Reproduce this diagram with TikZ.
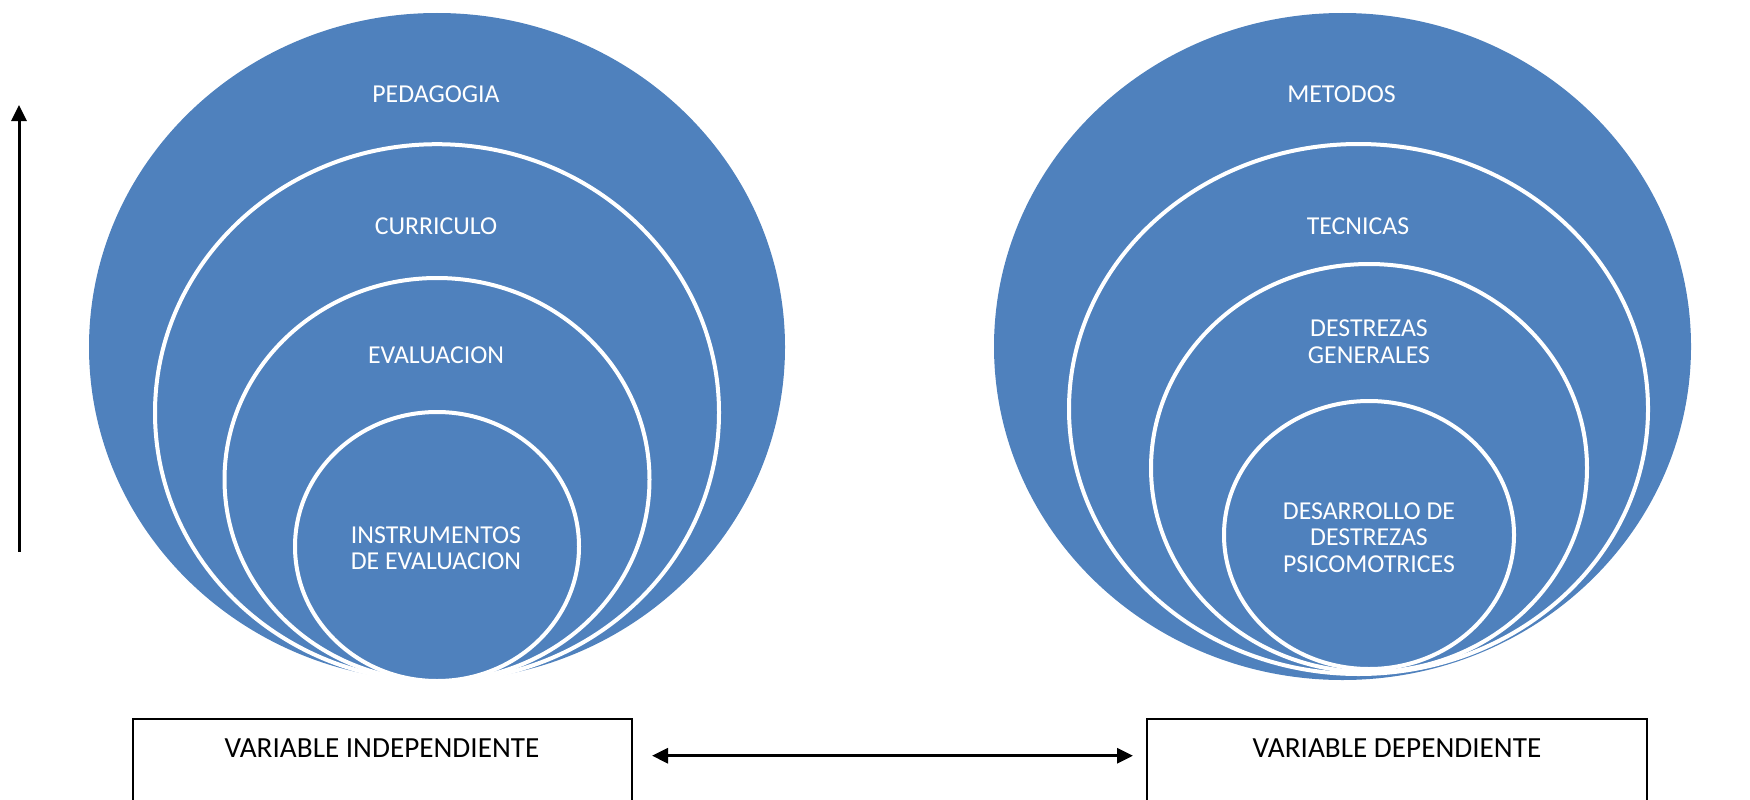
\documentclass[tikz,border=0pt]{standalone}
\usepackage{fontspec}
\setmainfont{Carlito}
\usetikzlibrary{shapes.geometric,arrows.meta,calc}
\definecolor{accentblue}{HTML}{4F81BD}
\tikzset{
  blob/.style={ellipse, fill=accentblue, draw=white, line width=4pt, inner sep=0pt, outer sep=0pt},
  outerblob/.style={ellipse, fill=accentblue, draw=none, inner sep=0pt, outer sep=0pt},
  ctext/.style={text=white, align=center, inner sep=0pt, font=\fontsize{25.8}{26.4}\selectfont},
  vbox/.style={draw=black, line width=2pt, fill=white, inner sep=0pt, anchor=north west},
  vtext/.style={text=black, inner sep=0pt, font=\fontsize{29.2}{30}\selectfont},
  arr/.style={line width=3pt, -{Triangle[length=16pt,width=15pt]}},
  darr/.style={line width=3pt, {Triangle[length=16pt,width=15pt]}-{Triangle[length=16pt,width=15pt]}}
}
\begin{document}
\begin{tikzpicture}[x=1pt,y=-1pt]
\useasboundingbox (0,0) rectangle (1750,800);
\clip (0,0) rectangle (1750,800);
% left group
\node[outerblob, minimum width=696pt, minimum height=668pt] (L1) at (437,347) {};
\node[blob, minimum width=564pt, minimum height=537pt] (L2) at (437,412.7) {};
\node[blob, minimum width=425pt, minimum height=403pt] (L3) at (437,479.5) {};
\node[blob, minimum width=284pt, minimum height=269pt] (L4) at (437,546.5) {};
\node[ctext] (tL1) at (436,94.4) {PEDAGOGIA};
\node[ctext] (tL2) at (436,226) {CURRICULO};
\node[ctext] (tL3) at (436,355.6) {EVALUACION};
\node[ctext] (tL4) at (436,548.5) {INSTRUMENTOS\\DE EVALUACION};
% right group
\node[outerblob, minimum width=697pt, minimum height=667pt] (R1) at (1342.5,346.5) {};
\node[blob, minimum width=579pt, minimum height=530pt] (R2) at (1358.5,409) {};
\node[blob, minimum width=436pt, minimum height=408pt] (R3) at (1369,468) {};
\node[blob, minimum width=290pt, minimum height=268pt] (R4) at (1369,535) {};
\node[ctext] (tR1) at (1341.5,94.4) {METODOS};
\node[ctext] (tR2) at (1358,226) {TECNICAS};
\node[ctext] (tR3) at (1369,341.8) {DESTREZAS\\GENERALES};
\node[ctext] (tR4) at (1369,537.4) {DESARROLLO DE\\DESTREZAS\\PSICOMOTRICES};
% boxes
\node[vbox, minimum width=499pt, minimum height=110pt] (boxL) at (131.5,718.3) {};
\node[vbox, minimum width=500pt, minimum height=110pt] (boxR) at (1146,718.3) {};
\node[vtext] (tbL) at ($(boxL.north)+(0,30)$) {VARIABLE INDEPENDIENTE};
\node[vtext] (tbR) at ($(boxR.north)+(0,30)$) {VARIABLE DEPENDIENTE};
% arrows
\coordinate (aL) at ($(boxL.north east)+(19.5,37.4)$);
\coordinate (aR) at ($(boxR.north west)+(-13,37.4)$);
\draw[darr] (aL) -- (aR);
\coordinate (vB) at (19,551.7);
\coordinate (vT) at (19,105);
\draw[arr] (vB) -- (vT);
\end{tikzpicture}
\end{document}
